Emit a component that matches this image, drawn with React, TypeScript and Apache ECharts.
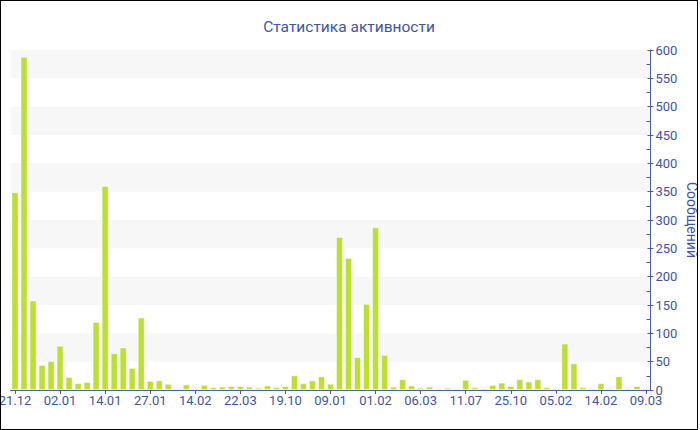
import { useEffect, useRef } from "react";
import * as echarts from "echarts";

const tickLabels = [
  "21.12", "02.01", "14.01", "27.01", "14.02", "22.03", "19.10", "09.01",
  "01.02", "06.03", "11.07", "25.10", "05.02", "14.02", "09.03",
];

const messages = [
  349, 588, 158, 44, 51, 78, 23, 12, 14, 120,
  360, 65, 75, 39, 128, 16, 17, 11, 3, 10,
  3, 9, 5, 6, 7, 7, 6, 4, 8, 5,
  7, 26, 12, 17, 24, 11, 270, 233, 58, 152,
  287, 62, 6, 19, 8, 4, 6, 3, 4, 3,
  18, 5, 3, 9, 13, 7, 19, 15, 19, 5,
  3, 82, 47, 5, 3, 12, 3, 24, 3, 7,
  3,
];

const LABEL_STEP = 5;
const categories = messages.map((_, i) =>
  i % LABEL_STEP === 0 ? tickLabels[i / LABEL_STEP] : ""
);

const AXIS_COLOR = "#4a5ea6";
const TEXT_COLOR = "#3f55a0";
const FONT = "Roboto";

export default function App() {
  const ref = useRef<HTMLDivElement>(null);

  useEffect(() => {
    if (!ref.current) return;
    const chart = echarts.init(ref.current, undefined, { renderer: "svg" });
    chart.setOption({
      animation: false,
      backgroundColor: "#ffffff",
      textStyle: { fontFamily: FONT },
      title: {
        text: "Статистика активности",
        left: "center",
        top: 13,
        textStyle: {
          color: TEXT_COLOR,
          fontSize: 15.5,
          fontWeight: "normal",
          fontFamily: FONT,
        },
      },
      grid: {
        left: 9.5,
        right: 46.5,
        top: 49,
        bottom: 39,
        containLabel: false,
        outerBoundsMode: "none",
      },
      xAxis: {
        type: "category",
        data: categories,
        boundaryGap: true,
        axisLine: { show: true, lineStyle: { color: AXIS_COLOR, width: 1 } },
        axisTick: {
          show: true,
          interval: LABEL_STEP - 1,
          alignWithLabel: true,
          length: 4,
          lineStyle: { color: AXIS_COLOR },
        },
        axisLabel: {
          interval: LABEL_STEP - 1,
          color: TEXT_COLOR,
          fontSize: 13,
          fontFamily: FONT,
          margin: 4,
          hideOverlap: false,
        },
        splitLine: { show: false },
      },
      yAxis: [
        {
          type: "value",
          position: "right",
          min: 0,
          max: 600,
          interval: 50,
          axisLine: { show: true, lineStyle: { color: AXIS_COLOR, width: 1 } },
          axisTick: { show: true, inside: false, length: 3, lineStyle: { color: AXIS_COLOR } },
          axisLabel: { color: TEXT_COLOR, fontSize: 13, fontFamily: FONT, margin: 5 },
          splitLine: { show: false },
          splitArea: {
            show: true,
            areaStyle: { color: ["rgba(255,255,255,0)", "#f7f7f7"] },
          },
          name: "Сообщений",
          nameLocation: "middle",
          nameRotate: -90,
          nameGap: 34,
          nameMoveOverlap: false,
          nameTextStyle: { color: TEXT_COLOR, fontSize: 14, fontFamily: FONT },
        },
        {
          type: "value",
          position: "right",
          min: 0,
          max: 600,
          interval: 50,
          axisLine: { show: false },
          axisTick: { show: true, inside: true, length: 3, lineStyle: { color: AXIS_COLOR } },
          minorTick: { show: true, splitNumber: 2, length: 4, lineStyle: { color: AXIS_COLOR } },
          axisLabel: { show: false },
          splitLine: { show: false },
          splitArea: { show: false },
        },
      ],
      series: [
        {
          type: "bar",
          yAxisIndex: 0,
          data: messages,
          barCategoryGap: "22%",
          itemStyle: {
            color: "#bce030",
            borderColor: "rgba(255,255,255,0.45)",
            borderWidth: 1,
          },
        },
      ],
    });
    return () => chart.dispose();
  }, []);

  return (
    <div
      style={{
        position: "absolute",
        left: 0,
        top: 0,
        width: 698,
        height: 430,
        border: "1px solid #000",
        boxSizing: "border-box",
        background: "#fff",
      }}
    >
      <div ref={ref} style={{ width: 696, height: 428 }} />
    </div>
  );
}
